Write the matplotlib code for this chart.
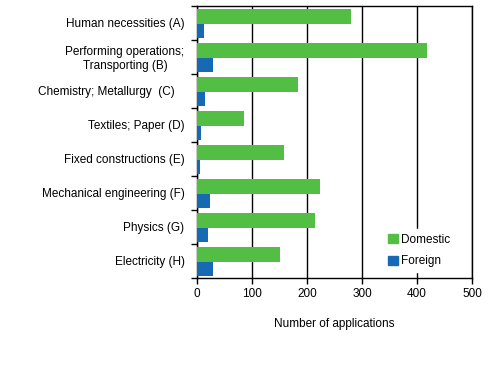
import numpy as np
import matplotlib
matplotlib.use("Agg")
import matplotlib.pyplot as plt
from matplotlib.patches import Patch

plt.rcParams['font.family'] = ['Liberation Sans', 'DejaVu Sans']
plt.rcParams['font.size'] = 8.5

categories = ["Human necessities (A)",
              "Performing operations;\nTransporting (B)",
              "Chemistry; Metallurgy  (C)   ",
              "Textiles; Paper (D)",
              "Fixed constructions (E)",
              "Mechanical engineering (F)",
              "Physics (G)",
              "Electricity (H)"]
domestic = [280, 418, 184, 85, 158, 224, 215, 151]
foreign = [12, 29, 14, 7, 5, 23, 20, 29]

green = "#52BF44"
blue = "#1769B4"

fig = plt.figure(figsize=(4.93, 3.77), dpi=100)
ax = fig.add_axes([0.3996, 0.2626, 0.5578, 0.7215])

y = np.arange(len(categories))
ax.barh(y - 0.2, domestic, height=0.44, color=green, zorder=3)
ax.barh(y + 0.23, foreign, height=0.42, color=blue, zorder=3)

ax.set_xlim(0, 500)
ax.set_ylim(len(categories) - 0.5, -0.5)
ax.set_xticks(np.arange(0, 501, 100))
ax.xaxis.grid(True, color="black", linewidth=1, zorder=1)
ax.set_yticks(y)
ax.set_yticklabels(categories, multialignment="center")
ax.set_yticks(np.arange(-0.5, len(categories), 1), minor=True)
ax.tick_params(axis="y", which="major", length=0, pad=9)
ax.tick_params(axis="y", which="minor", length=4, width=1, direction="out")
ax.tick_params(axis="x", length=4, width=1, direction="out", pad=3)
for s in ax.spines.values():
    s.set_linewidth(1)
    s.set_color("black")

ax.set_xlabel("Number of applications", labelpad=13)

handles = [Patch(color=green, label="Domestic"), Patch(color=blue, label="Foreign")]
leg = ax.legend(handles=handles, loc="lower right", bbox_to_anchor=(0.96, 0.0),
                frameon=True, framealpha=1, edgecolor="white", fancybox=False,
                handlelength=0.8, handleheight=0.8, handletextpad=0.3,
                labelspacing=0.8, borderpad=0.4)
leg.set_zorder(5)

fig.savefig("out.png", dpi=100)
